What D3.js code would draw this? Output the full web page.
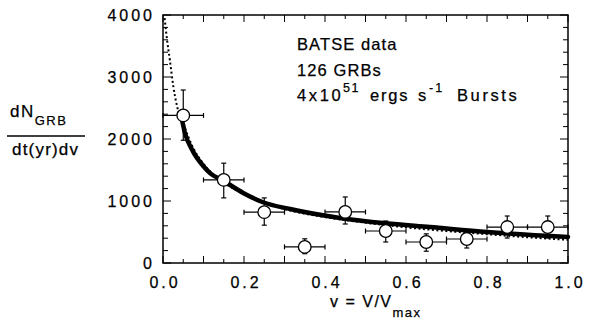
<!DOCTYPE html>
<html>
<head>
<meta charset="utf-8">
<script src="https://cdn.jsdelivr.net/npm/d3@7"></script>
<style>
  body { margin: 0; background: #fff; }
  text { font-family: "Liberation Sans", Arial, sans-serif; fill: #000; stroke: #000; stroke-width: 0.25px; }
</style>
</head>
<body>
<script>
const width = 592, height = 326;
const margin = {left: 163, right: 24, top: 15, bottom: 63};

// binned BATSE points
const binV = [0.05, 0.15, 0.25, 0.35, 0.45, 0.55, 0.65, 0.75, 0.85, 0.95];
const binN = [2380, 1340, 820, 260, 823, 516, 339, 387, 580, 580];
const binHi = [2790, 1610, 1050, 390, 1065, 677, 470, 500, 758, 758];
const binLo = [1980, 1050, 610, 150, 629, 339, 190, 242, 403, 403];
const binHalf = 0.05;

// thick fitted curve
const fitV = [0.04, 0.047, 0.054, 0.074, 0.1, 0.116, 0.148, 0.198, 0.247, 0.314, 0.437, 0.55, 0.659, 0.8, 1.0];
const fitN = [2420, 2300, 2100, 1800, 1560, 1450, 1330, 1130, 980, 870, 726, 640, 580, 500, 420];

// dotted/dashed model
const modelV = [0.004, 0.01, 0.017, 0.025, 0.035, 0.05, 0.075, 0.1, 0.15, 0.2, 0.3, 0.4, 0.5, 0.6, 0.7, 0.8, 0.9, 1.0];
const modelN = [3950, 3600, 3270, 2870, 2520, 2250, 1850, 1600, 1300, 1110, 870, 740, 650, 575, 515, 465, 415, 375];

const xLabelTicks = [0, 0.2, 0.4, 0.6, 0.8, 1.0];
const yLabelTicks = [0, 1000, 2000, 3000, 4000];

const svg = d3.select('body').append('svg').attr('width', width).attr('height', height);

const x = d3.scaleLinear().domain([0, 1]).range([margin.left, width - margin.right]);
const y = d3.scaleLinear().domain([0, 4000]).range([height - margin.bottom, margin.top]);

const x0 = x.range()[0], x1 = x.range()[1], y0 = y.range()[0], y1 = y.range()[1];

// inward ticks on all four sides
const xMinor = d3.range(0, 1.0001, 0.05).map(d => +d.toFixed(2));
const yMinor = d3.range(0, 4001, 200);
const tickG = svg.append('g').attr('stroke', '#000').attr('stroke-width', 1);
xMinor.forEach(d => {
    const len = Math.abs(d * 10 - Math.round(d * 10)) < 1e-6 ? 7 : 4;
    tickG.append('line').attr('x1', x(d)).attr('x2', x(d)).attr('y1', y0).attr('y2', y0 - len);
    tickG.append('line').attr('x1', x(d)).attr('x2', x(d)).attr('y1', y1).attr('y2', y1 + len);
});
yMinor.forEach(d => {
    const len = d % 1000 === 0 ? 8 : 5;
    tickG.append('line').attr('x1', x0).attr('x2', x0 + len).attr('y1', y(d)).attr('y2', y(d));
    tickG.append('line').attr('x1', x1).attr('x2', x1 - len).attr('y1', y(d)).attr('y2', y(d));
});

svg.append('rect')
    .attr('x', x0).attr('y', y1).attr('width', x1 - x0).attr('height', y0 - y1)
    .attr('fill', 'none').attr('stroke', '#000').attr('stroke-width', 1.5);

// tick labels
svg.append('g').selectAll('text').data(xLabelTicks).enter().append('text')
    .attr('x', d => x(d) + 2).attr('y', 288)
    .attr('text-anchor', 'middle')
    .style('font-size', '16px').style('letter-spacing', '3px')
    .text(d3.format('.1f'));

svg.append('g').selectAll('text').data(yLabelTicks).enter().append('text')
    .attr('x', 155).attr('y', d => y(d) + 6)
    .attr('text-anchor', 'end')
    .style('font-size', '16px').style('letter-spacing', '3px')
    .text(d => d);

// model curves
const line = d3.line().x(d => x(d[0])).y(d => y(d[1])).curve(d3.curveMonotoneX);

svg.append('path')
    .datum(modelV.map((v, i) => [v, modelN[i]]))
    .attr('d', line)
    .attr('fill', 'none').attr('stroke', '#000')
    .attr('stroke-width', 2).attr('stroke-dasharray', '2,2.5');

svg.append('path')
    .datum(fitV.map((v, i) => [v, fitN[i]]))
    .attr('d', line)
    .attr('fill', 'none').attr('stroke', '#000')
    .attr('stroke-width', 4.5).attr('stroke-linecap', 'round');

// error bars and points
const pts = binV.map((v, i) => ({v, n: binN[i], hi: binHi[i], lo: binLo[i]}));
const eg = svg.append('g').attr('stroke', '#000').attr('stroke-width', 1.2);
pts.forEach(p => {
    eg.append('line').attr('x1', x(p.v - binHalf)).attr('x2', x(p.v + binHalf)).attr('y1', y(p.n)).attr('y2', y(p.n));
    eg.append('line').attr('x1', x(p.v - binHalf)).attr('x2', x(p.v - binHalf)).attr('y1', y(p.n) - 2.5).attr('y2', y(p.n) + 2.5);
    eg.append('line').attr('x1', x(p.v + binHalf)).attr('x2', x(p.v + binHalf)).attr('y1', y(p.n) - 2.5).attr('y2', y(p.n) + 2.5);
    eg.append('line').attr('x1', x(p.v)).attr('x2', x(p.v)).attr('y1', y(p.hi)).attr('y2', y(p.lo));
    eg.append('line').attr('x1', x(p.v) - 2.5).attr('x2', x(p.v) + 2.5).attr('y1', y(p.hi)).attr('y2', y(p.hi));
    eg.append('line').attr('x1', x(p.v) - 2.5).attr('x2', x(p.v) + 2.5).attr('y1', y(p.lo)).attr('y2', y(p.lo));
});
svg.append('g').selectAll('circle').data(pts).enter().append('circle')
    .attr('cx', d => x(d.v)).attr('cy', d => y(d.n)).attr('r', 6.3)
    .attr('fill', '#fff').attr('stroke', '#000').attr('stroke-width', 1.3);

// annotation
const note = svg.append('g').style('font-size', '16.5px').style('letter-spacing', '1.1px');
note.append('text').attr('x', 297).attr('y', 50).text('BATSE data');
note.append('text').attr('x', 297).attr('y', 76).text('126 GRBs');
const t3 = note.append('g');
t3.append('text').attr('x', 297).attr('y', 101).style('letter-spacing', '2.6px').text('4x10');
t3.append('text').attr('x', 343).attr('y', 92).style('font-size', '12.5px').style('letter-spacing', '1.5px').text('51');
t3.append('text').attr('x', 370).attr('y', 101).style('letter-spacing', '1.8px').text('ergs');
t3.append('text').attr('x', 418).attr('y', 101).text('s');
t3.append('text').attr('x', 429).attr('y', 92).style('font-size', '12.5px').style('letter-spacing', '2px').text('-1');
t3.append('text').attr('x', 457).attr('y', 101).style('letter-spacing', '2.6px').text('Bursts');

// axis titles
const xt = svg.append('text').attr('x', 330).attr('y', 307).style('font-size', '16px').style('letter-spacing', '1.5px');
xt.append('tspan').text('v = V/V');
xt.append('tspan').attr('dy', 10).style('font-size', '13px').text('max');

const yt = svg.append('text').attr('x', 10).attr('y', 117).style('font-size', '17px').style('letter-spacing', '1.5px');
yt.append('tspan').text('dN');
yt.append('tspan').attr('dy', 8).style('font-size', '13px').text('GRB');
svg.append('line').attr('x1', 7).attr('x2', 85).attr('y1', 136).attr('y2', 136)
    .attr('stroke', '#000').attr('stroke-width', 1.3);
svg.append('text').attr('x', 12).attr('y', 155).style('font-size', '17px').style('letter-spacing', '1.2px').text('dt(yr)dv');
</script>
</body>
</html>
